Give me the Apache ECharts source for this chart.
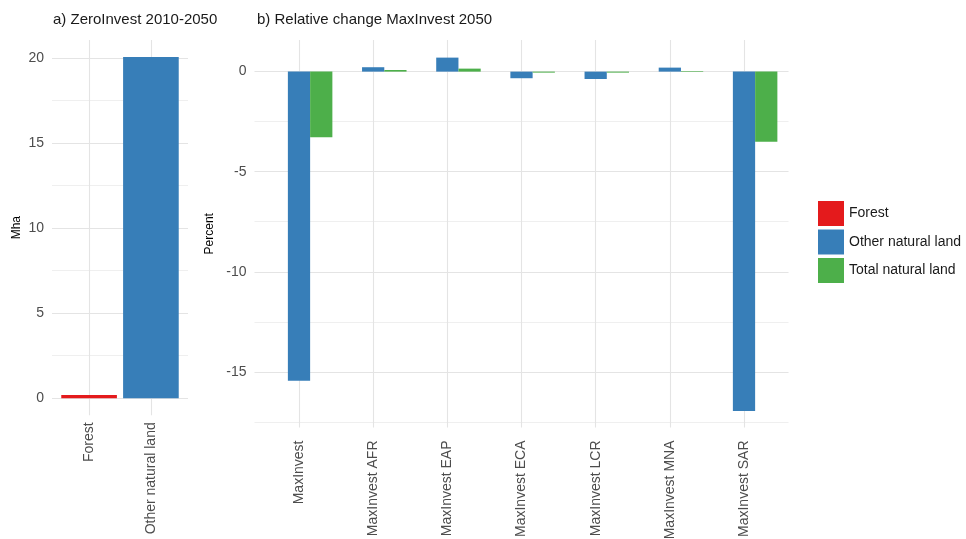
<!DOCTYPE html>
<html>
<head>
<meta charset="utf-8">
<script src="https://cdn.jsdelivr.net/npm/echarts@6/dist/echarts.min.js"></script>
<style>html,body{margin:0;padding:0;background:#fff;}#c{width:966px;height:539px;}</style>
</head>
<body>
<div id="c"></div>
<script>
// ---- Data ----
const leftCategories = ['Forest', 'Other natural land'];
const leftForest = [0.2, null];
const leftOther = [null, 20.05];
const leftMajorTicks = [0, 5, 10, 15, 20];
const leftMinorTicks = [2.5, 7.5, 12.5, 17.5];

const rightCategories = ['MaxInvest', 'MaxInvest AFR', 'MaxInvest EAP', 'MaxInvest ECA', 'MaxInvest LCR', 'MaxInvest MNA', 'MaxInvest SAR'];
const rightForest = [0, 0, 0, 0, 0, 0, 0];
const rightOther = [-15.45, 0.22, 0.7, -0.33, -0.37, 0.2, -16.95];
const rightTotal = [-3.28, 0.08, 0.15, -0.05, -0.05, 0.03, -3.5];
const rightMajorTicks = [-15, -10, -5, 0];
const rightMinorTicks = [-17.5, -12.5, -7.5, -2.5];

const colors = {forest: '#E41A1C', other: '#377EB8', total: '#4DAF4A'};
const FONT = 'Liberation Sans, Arial, sans-serif';
const tickColor = '#4D4D4D';
const majorLine = {show: true, lineStyle: {color: '#E4E4E4', width: 1.1}};
const minorLine = {show: true, lineStyle: {color: '#EFEFEF', width: 1}};

// ---- Layout ----
const L = {left: 52, right: 188, top: 40, bottom: 415.3, n: leftCategories.length, ymin: -1, ymax: 21.05};
const R = {left: 254.5, right: 788.5, top: 40, bottom: 427.5, n: rightCategories.length, ymin: -17.78, ymax: 1.58};
function inner(p) {
  const unit = (p.right - p.left) / (p.n - 1 + 1.2);
  return {left: p.left + 0.1 * unit, width: p.n * unit};
}
const Li = inner(L), Ri = inner(R);
const rng = (n) => Array.from({length: n}, (_, i) => i + 1);
const gridBase = {containLabel: false, outerBoundsMode: 'none'};

const chart = echarts.init(document.getElementById('c'));
chart.setOption({
  backgroundColor: '#fff',
  animation: false,
  title: [
    {text: 'a) ZeroInvest 2010-2050', left: 48, top: 7, textStyle: {fontFamily: FONT, fontSize: 15, fontWeight: 'normal', color: '#1A1A1A'}},
    {text: 'b) Relative change MaxInvest 2050', left: 252, top: 7, textStyle: {fontFamily: FONT, fontSize: 15, fontWeight: 'normal', color: '#1A1A1A'}}
  ],
  legend: {
    orient: 'vertical', left: 813, top: 196,
    itemWidth: 26, itemHeight: 25, itemGap: 3.5, icon: 'rect',
    data: ['Forest', 'Other natural land', 'Total natural land'],
    textStyle: {fontFamily: FONT, fontSize: 14, color: '#1A1A1A'}
  },
  grid: [
    Object.assign({left: L.left, top: L.top, width: L.right - L.left, height: L.bottom - L.top}, gridBase),
    Object.assign({left: Li.left, top: L.top, width: Li.width, height: L.bottom - L.top}, gridBase),
    Object.assign({left: R.left, top: R.top, width: R.right - R.left, height: R.bottom - R.top}, gridBase),
    Object.assign({left: Ri.left, top: R.top, width: Ri.width, height: R.bottom - R.top}, gridBase)
  ],
  xAxis: [
    {type: 'value', gridIndex: 0, min: 0.4, max: L.n + 0.6, axisLabel: {show: false}, axisLine: {show: false},
     axisTick: {show: false, customValues: rng(L.n)}, splitLine: majorLine},
    {type: 'category', gridIndex: 1, data: leftCategories, axisLine: {show: false}, axisTick: {show: false},
     splitLine: {show: false},
     axisLabel: {rotate: 90, margin: 7, color: tickColor, fontFamily: FONT, fontSize: 14, interval: 0}},
    {type: 'value', gridIndex: 2, min: 0.4, max: R.n + 0.6, axisLabel: {show: false}, axisLine: {show: false},
     axisTick: {show: false, customValues: rng(R.n)}, splitLine: majorLine},
    {type: 'category', gridIndex: 3, data: rightCategories, axisLine: {show: false}, axisTick: {show: false},
     splitLine: {show: false},
     axisLabel: {rotate: 90, margin: 13, color: tickColor, fontFamily: FONT, fontSize: 14, interval: 0}}
  ],
  yAxis: [
    {type: 'value', gridIndex: 0, min: L.ymin, max: L.ymax, axisLine: {show: false},
     axisTick: {show: false, customValues: leftMajorTicks},
     axisLabel: {customValues: leftMajorTicks, margin: 8, color: tickColor, fontFamily: FONT, fontSize: 14},
     splitLine: majorLine,
     name: 'Mha', nameLocation: 'middle', nameGap: 29,
     nameTextStyle: {fontFamily: FONT, fontSize: 12, color: '#000'}},
    {type: 'value', gridIndex: 0, min: L.ymin, max: L.ymax, axisLine: {show: false}, axisLabel: {show: false},
     axisTick: {show: false, customValues: leftMinorTicks}, splitLine: minorLine},
    {type: 'value', gridIndex: 1, min: L.ymin, max: L.ymax, show: false},
    {type: 'value', gridIndex: 2, min: R.ymin, max: R.ymax, axisLine: {show: false},
     axisTick: {show: false, customValues: rightMajorTicks},
     axisLabel: {customValues: rightMajorTicks, margin: 8, color: tickColor, fontFamily: FONT, fontSize: 14},
     splitLine: majorLine,
     name: 'Percent', nameLocation: 'middle', nameGap: 33,
     nameTextStyle: {fontFamily: FONT, fontSize: 12, color: '#000'}},
    {type: 'value', gridIndex: 2, min: R.ymin, max: R.ymax, axisLine: {show: false}, axisLabel: {show: false},
     axisTick: {show: false, customValues: rightMinorTicks}, splitLine: minorLine},
    {type: 'value', gridIndex: 3, min: R.ymin, max: R.ymax, show: false}
  ],
  series: [
    {name: 'Forest', type: 'bar', xAxisIndex: 1, yAxisIndex: 2, data: leftForest,
     barCategoryGap: '10%', barGap: '-100%', itemStyle: {color: colors.forest}},
    {name: 'Other natural land', type: 'bar', xAxisIndex: 1, yAxisIndex: 2, data: leftOther,
     barCategoryGap: '10%', barGap: '-100%', itemStyle: {color: colors.other}},
    {name: 'Forest', type: 'bar', xAxisIndex: 3, yAxisIndex: 5, data: rightForest,
     barCategoryGap: '10%', barGap: '0%', itemStyle: {color: colors.forest}},
    {name: 'Other natural land', type: 'bar', xAxisIndex: 3, yAxisIndex: 5, data: rightOther,
     barCategoryGap: '10%', barGap: '0%', itemStyle: {color: colors.other}},
    {name: 'Total natural land', type: 'bar', xAxisIndex: 3, yAxisIndex: 5, data: rightTotal,
     barCategoryGap: '10%', barGap: '0%', itemStyle: {color: colors.total}}
  ]
});
</script>
</body>
</html>
